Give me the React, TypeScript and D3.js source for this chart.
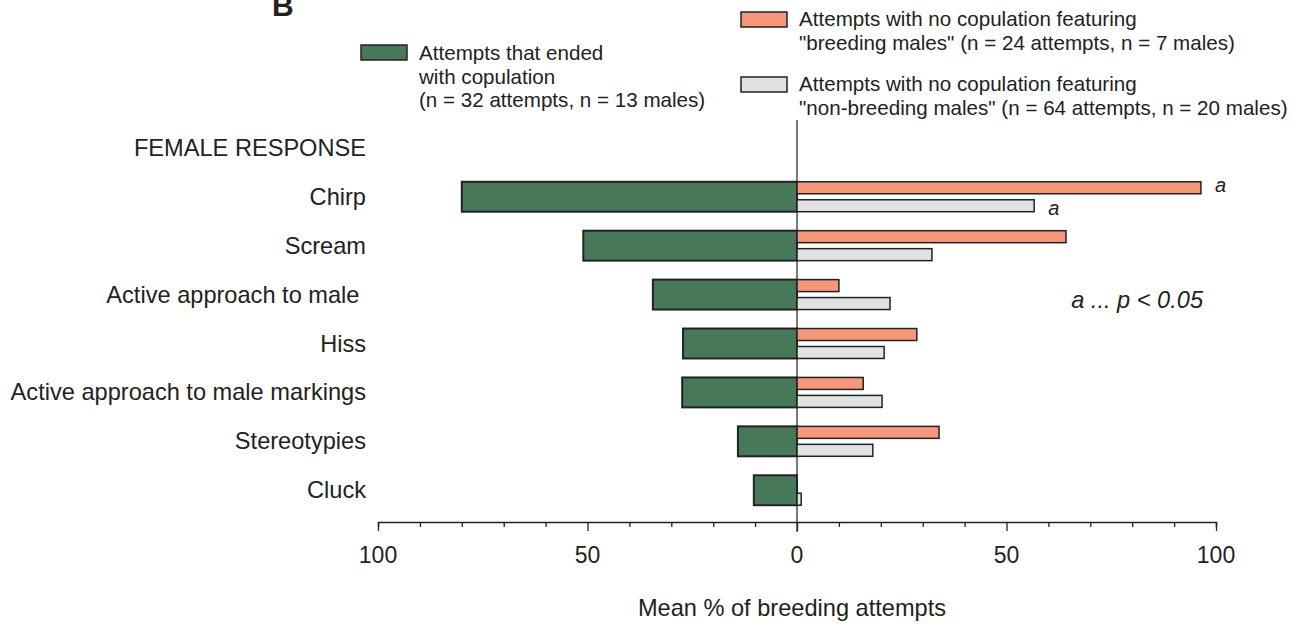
import React, { useEffect, useRef } from 'react';
import * as d3 from 'd3';

const categories = [
  'Chirp',
  'Scream',
  'Active approach to male ',
  'Hiss',
  'Active approach to male markings',
  'Stereotypies',
  'Cluck',
];
const copulation = [80, 51, 34.4, 27.2, 27.4, 14.1, 10.3];
const breedingMales = [96.4, 64.2, 10, 28.6, 15.8, 33.9, 0];
const nonBreedingMales = [56.6, 32.2, 22.2, 20.8, 20.3, 18.1, 1];
const tickValues = [-100, -90, -80, -70, -60, -50, -40, -30, -20, -10, 0, 10, 20, 30, 40, 50, 60, 70, 80, 90, 100];
const tickLabels = [-100, -50, 0, 50, 100];

const colors = {
  green: '#47785a',
  orange: '#f5977a',
  grey: '#e1e2e4',
  stroke: '#222',
  text: '#222',
};

const W = 1303, H = 626;

export default function App() {
  const svgRef = useRef<SVGSVGElement>(null);

  useEffect(() => {
    const svg = d3.select(svgRef.current);
    svg.selectAll('*').remove();
    const font = '"Liberation Sans", Arial, sans-serif';

    const x = d3.scaleLinear().domain([-100, 100]).range([378, 1216]);
    const y = d3.scaleBand().domain(categories).range([172, 515]).paddingInner(0.388).paddingOuter(0.2);
    const bw = y.bandwidth();

    // zero line
    svg.append('line')
      .attr('x1', x(0)).attr('x2', x(0))
      .attr('y1', 120).attr('y2', 532)
      .attr('stroke', colors.stroke).attr('stroke-width', 1.2);

    const data = categories.map((c, i) => ({ c, cop: copulation[i], br: breedingMales[i], nb: nonBreedingMales[i] }));

    // copulation bars (left)
    svg.selectAll('.cop-bar').data(data).enter().append('rect')
      .attr('class', 'cop-bar')
      .attr('x', d => x(-d.cop))
      .attr('y', d => y(d.c)!)
      .attr('width', d => x(0) - x(-d.cop))
      .attr('height', bw)
      .attr('fill', colors.green)
      .attr('stroke', colors.stroke).attr('stroke-width', 2);

    const half = bw * 0.4;
    svg.selectAll('.br-bar').data(data.filter(d => d.br > 0)).enter().append('rect')
      .attr('class', 'br-bar')
      .attr('x', x(0))
      .attr('y', d => y(d.c)!)
      .attr('width', d => x(d.br) - x(0))
      .attr('height', half)
      .attr('fill', colors.orange)
      .attr('stroke', colors.stroke).attr('stroke-width', 1.5);

    svg.selectAll('.nb-bar').data(data).enter().append('rect')
      .attr('class', 'nb-bar')
      .attr('x', x(0))
      .attr('y', d => y(d.c)! + bw - half)
      .attr('width', d => x(d.nb) - x(0))
      .attr('height', half)
      .attr('fill', colors.grey)
      .attr('stroke', colors.stroke).attr('stroke-width', 1.5);

    // category labels
    svg.selectAll('.cat-label').data(categories).enter().append('text')
      .attr('class', 'cat-label')
      .attr('x', 366)
      .attr('y', d => y(d)! + bw / 2 + 8)
      .attr('text-anchor', 'end')
      .attr('font-family', font).attr('font-size', 23.6)
      .attr('fill', colors.text)
      .style('white-space', 'pre')
      .text(d => d);

    svg.append('text')
      .attr('x', 366).attr('y', 156)
      .attr('text-anchor', 'end')
      .attr('font-family', font).attr('font-size', 23.6)
      .attr('fill', colors.text)
      .text('FEMALE RESPONSE');

    // axis
    const axisY = 522;
    const axis = d3.axisBottom(x)
      .tickValues(tickValues)
      .tickSizeOuter(0)
      .tickSize(5)
      .tickFormat(() => '');
    const g = svg.append('g').attr('transform', `translate(0,${axisY})`).call(axis);
    g.select('.domain').attr('stroke', colors.stroke).attr('stroke-width', 1.5);
    g.selectAll('.tick line')
      .attr('stroke', colors.stroke).attr('stroke-width', 1.3)
      .attr('y2', (d: any) => (d % 50 === 0 ? 9 : 5));

    svg.selectAll('.tick-label').data(tickLabels).enter().append('text')
      .attr('class', 'tick-label')
      .attr('x', d => x(d))
      .attr('y', 563)
      .attr('text-anchor', 'middle')
      .attr('font-family', font).attr('font-size', 23)
      .attr('fill', colors.text)
      .text(d => Math.abs(d));

    svg.append('text')
      .attr('x', x(0) - 5).attr('y', 616)
      .attr('text-anchor', 'middle')
      .attr('font-family', font).attr('font-size', 23.6)
      .attr('fill', colors.text)
      .text('Mean % of breeding attempts');

    // significance marks
    svg.append('text')
      .attr('x', x(breedingMales[0]) + 14).attr('y', 192)
      .attr('font-family', font).attr('font-size', 20).attr('font-style', 'italic')
      .attr('fill', colors.text).text('a');
    svg.append('text')
      .attr('x', x(nonBreedingMales[0]) + 14).attr('y', 215)
      .attr('font-family', font).attr('font-size', 20).attr('font-style', 'italic')
      .attr('fill', colors.text).text('a');
    svg.append('text')
      .attr('x', 1203).attr('y', 308)
      .attr('text-anchor', 'end')
      .attr('font-family', font).attr('font-size', 23.6).attr('font-style', 'italic')
      .attr('fill', colors.text).text('a ... p < 0.05');

    // panel letter
    svg.append('text')
      .attr('x', 272).attr('y', 16)
      .attr('font-family', font).attr('font-size', 30).attr('font-weight', 'bold')
      .attr('fill', colors.text).text('B');

    // legend
    const legend = [
      { fill: colors.green, sx: 361, sy: 45, tx: 419, ty: 60, lines: ['Attempts that ended', 'with copulation', '(n = 32 attempts, n = 13 males)'] },
      { fill: colors.orange, sx: 741, sy: 12, tx: 799, ty: 26, lines: ['Attempts with no copulation featuring', '"breeding males" (n = 24 attempts, n = 7 males)'] },
      { fill: colors.grey, sx: 741, sy: 77, tx: 799, ty: 91, lines: ['Attempts with no copulation featuring', '"non-breeding males" (n = 64 attempts, n = 20 males)'] },
    ];
    legend.forEach(l => {
      svg.append('rect')
        .attr('x', l.sx).attr('y', l.sy).attr('width', 46).attr('height', 15)
        .attr('fill', l.fill).attr('stroke', colors.stroke).attr('stroke-width', 1.5);
      const t = svg.append('text')
        .attr('font-family', font).attr('font-size', 20.6)
        .attr('fill', colors.text);
      l.lines.forEach((line, i) => {
        t.append('tspan').attr('x', l.tx).attr('y', l.ty + i * 23.5).text(line);
      });
    });
  }, []);

  return (
    <svg ref={svgRef} width={W} height={H} style={{ position: 'absolute', left: 0, top: 0, background: '#fff' }} />
  );
}
